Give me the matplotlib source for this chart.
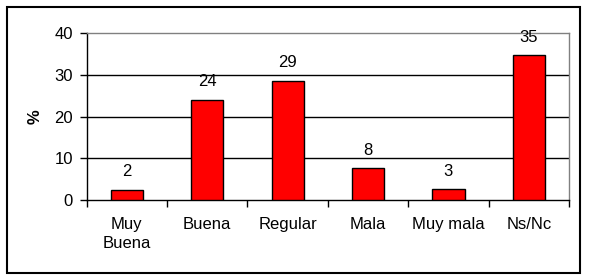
import matplotlib
matplotlib.use("Agg")
import matplotlib.pyplot as plt
from matplotlib.patches import Rectangle
import numpy as np

categories = ["Muy\nBuena", "Buena", "Regular", "Mala", "Muy mala", "Ns/Nc"]
values = [2.4, 24.0, 28.6, 7.6, 2.6, 34.7]
labels = ["2", "24", "29", "8", "3", "35"]
yticks = [0, 10, 20, 30, 40]

plt.rcParams['font.family'] = ['Liberation Sans', 'DejaVu Sans']

W, H = 589, 280
fig = plt.figure(figsize=(W/100, H/100), dpi=100)
fig.patches.append(Rectangle((7/W, 7/H), (580-7)/W, (273-7)/H, transform=fig.transFigure,
                             fill=False, edgecolor='black', linewidth=1.5))

ax = fig.add_axes([86.7/W, (H-200)/H, (569-86.7)/W, (200-33.3)/H])
x = np.arange(len(categories))
ax.bar(x, values, width=0.4, color='#ff0000', edgecolor='black', linewidth=1.0, zorder=3)
for xi, v, l in zip(x, values, labels):
    ax.annotate(l, (xi, v), xytext=(0, 13), textcoords='offset points',
                ha='center', va='center', fontsize=12)

ax.set_xlim(-0.5, len(categories) - 0.5)
ax.set_ylim(0, 40)
ax.set_yticks(yticks)
ax.set_yticklabels([str(t) for t in yticks], fontsize=12)
for t in [10, 20, 30]:
    ax.axhline(t, color='black', linewidth=1.0, zorder=1)

ax.set_xticks(np.arange(-0.5, len(categories), 1.0))
ax.set_xticklabels([])
ax.set_xticks(x, minor=True)
ax.set_xticklabels(categories, minor=True, fontsize=12, linespacing=1.4)
ax.tick_params(axis='x', which='minor', length=0, pad=12)
ax.tick_params(axis='x', which='major', length=5, direction='out', width=1)
ax.tick_params(axis='y', length=5, direction='out', width=1, pad=5)

ax.spines['left'].set_color('black')
ax.spines['bottom'].set_color('black')
ax.spines['top'].set_color('#808080')
ax.spines['right'].set_color('#808080')
for s in ax.spines.values():
    s.set_linewidth(1.0)

ax.set_ylabel('%', fontsize=12, fontweight='bold', labelpad=8)

fig.savefig('out.png', dpi=100)
